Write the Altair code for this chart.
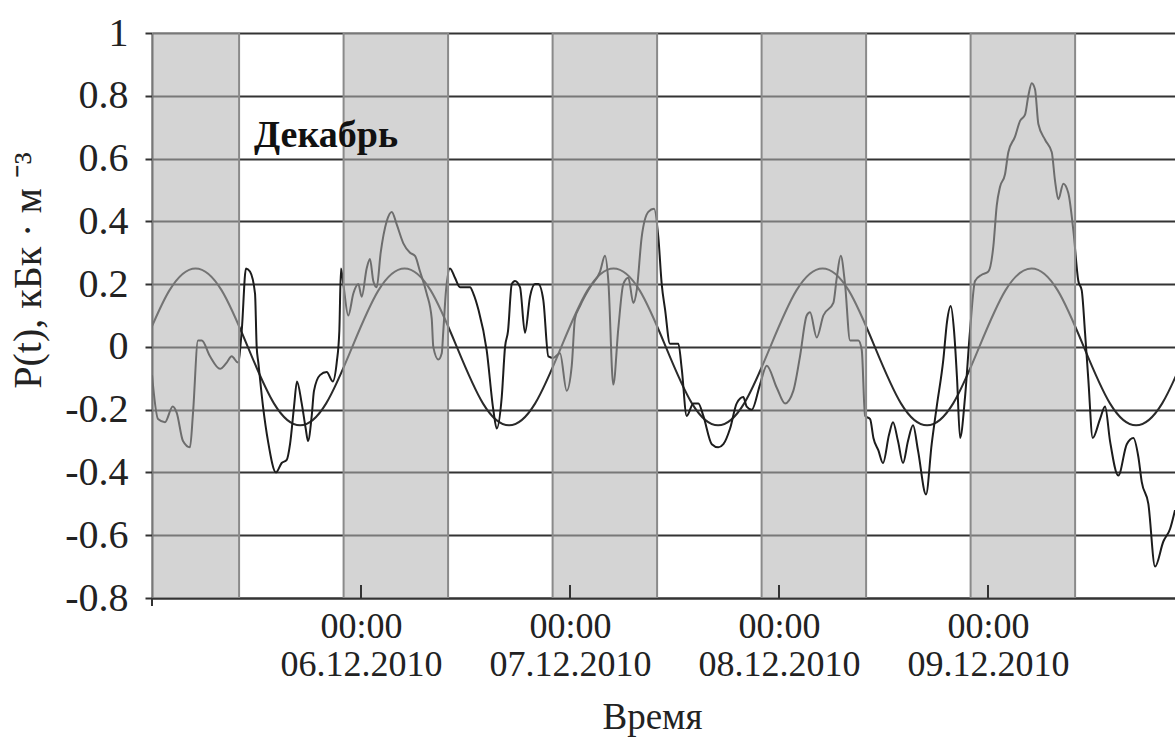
import altair as alt
import pandas as pd

# Hours since 05.12.2010 00:00 and measured P(t), kBq/m^3
meas_h = [0.0, 0.69, 1.49, 2.38, 2.84, 3.56, 4.36, 4.71, 5.28, 5.71, 6.66, 7.81, 8.58, 9.15, 9.88,
          10.30, 10.79, 11.25, 11.83, 12.02, 12.21, 12.75, 13.32, 14.24, 14.89, 15.47, 15.85, 16.31,
          16.65, 17.19, 17.65, 17.91, 18.34, 18.60, 19.29, 20.06, 20.75, 21.21, 21.51, 21.70, 21.97,
          22.54, 23.12, 23.69, 24.08, 24.65, 25.03, 25.41, 25.80, 26.26, 26.95, 27.53, 28.10, 28.86,
          29.63, 30.20, 30.78, 31.54, 32.12, 32.30, 32.88, 33.27, 33.45, 33.76, 34.22, 34.79, 35.37,
          36.52, 36.90, 37.47, 38.43, 39.19, 39.58, 40.16, 40.54, 40.88, 41.31, 41.68, 42.26, 42.83,
          43.41, 43.98, 44.36, 44.93, 45.51, 46.08, 46.85, 47.62, 48.20, 48.57, 49.15, 50.30, 51.45,
          52.02, 52.40, 52.97, 53.55, 54.12, 54.70, 55.27, 55.66, 56.23, 56.99, 57.65, 58.14, 58.53,
          58.91, 59.48, 60.44, 60.83, 61.40, 62.16, 62.74, 63.31, 64.28, 65.03, 65.61, 66.38, 67.14,
          67.90, 68.29, 68.87, 69.82, 70.59, 71.74, 72.69, 73.64, 74.41, 75.18, 75.56, 76.33, 77.09,
          78.24, 78.63, 79.09, 79.58, 80.16, 81.11, 81.50, 81.88, 82.46, 82.84, 83.41, 83.94, 84.63,
          85.09, 85.66, 86.24, 86.81, 87.39, 87.96, 88.88, 89.53, 90.11, 90.87, 91.29, 91.72, 92.10,
          92.44, 92.79, 93.36, 93.93, 94.51, 95.27, 96.04, 96.61, 97.00, 97.38, 97.95, 98.33, 99.10,
          99.68, 100.25, 100.63, 101.02, 101.40, 101.78, 102.55, 103.32, 103.69, 104.07, 104.65,
          105.22, 105.80, 106.37, 106.76, 107.14, 107.52, 108.02, 108.86, 109.44, 110.01, 110.96,
          111.93, 112.69, 113.26, 113.65, 114.41, 115.18, 116.13, 116.90, 117.47]
meas_p = [-0.09, -0.23, -0.24, -0.19, -0.21, -0.30, -0.32, -0.21, 0.02, 0.02, -0.03, -0.07, -0.05,
          -0.03, -0.05, 0.05, 0.25, 0.24, 0.17, 0.0, -0.05, -0.19, -0.30, -0.40, -0.37, -0.36, -0.31,
          -0.19, -0.11, -0.18, -0.26, -0.30, -0.22, -0.14, -0.09, -0.08, -0.11, -0.05, 0.05, 0.25,
          0.20, 0.10, 0.17, 0.20, 0.16, 0.25, 0.28, 0.21, 0.19, 0.30, 0.40, 0.43, 0.39, 0.33, 0.30,
          0.29, 0.24, 0.17, 0.09, 0.0, -0.04, -0.02, 0.05, 0.18, 0.25, 0.22, 0.19, 0.19, 0.17, 0.12,
          -0.01, -0.20, -0.26, -0.16, 0.0, 0.05, 0.20, 0.21, 0.19, 0.045, 0.16, 0.20, 0.20, 0.15,
          -0.03, -0.035, -0.02, -0.14, -0.06, 0.09, 0.13, 0.19, 0.24, 0.29, 0.21, -0.12, 0.06, 0.20,
          0.22, 0.14, 0.18, 0.35, 0.43, 0.44, 0.35, 0.20, 0.12, 0.01, 0.01, -0.07, -0.22, -0.18,
          -0.18, -0.22, -0.31, -0.32, -0.31, -0.26, -0.18, -0.16, -0.19, -0.20, -0.12, -0.06, -0.13,
          -0.18, -0.14, -0.03, 0.10, 0.11, 0.03, 0.10, 0.14, 0.22, 0.29, 0.20, 0.02, 0.02, -0.01,
          -0.22, -0.23, -0.29, -0.33, -0.37, -0.28, -0.24, -0.30, -0.37, -0.30, -0.25, -0.33, -0.47,
          -0.31, -0.19, -0.04, 0.08, 0.13, 0.05, -0.10, -0.29, -0.16, 0.05, 0.21, 0.23, 0.24, 0.32,
          0.45, 0.51, 0.55, 0.62, 0.67, 0.72, 0.74, 0.80, 0.84, 0.82, 0.71, 0.66, 0.62, 0.53, 0.47,
          0.52, 0.49, 0.37, 0.21, 0.18, 0.045, -0.105, -0.29, -0.23, -0.19, -0.30, -0.41, -0.31,
          -0.29, -0.35, -0.43, -0.50, -0.70, -0.62, -0.58, -0.52]

# Daily harmonic, sampled every 3 hours
fit_h = [-1, 2, 5, 8, 11, 14, 17, 20, 23, 26, 29, 32, 35, 38, 41, 44, 47, 50, 53, 56, 59, 62, 65, 68,
         71, 74, 77, 80, 83, 86, 89, 92, 95, 98, 101, 104, 107, 110, 113, 116, 119]
fit_p = [0.0, 0.18, 0.25, 0.18, 0.0, -0.18, -0.25, -0.18, 0.0, 0.18, 0.25, 0.18, 0.0, -0.18, -0.25,
         -0.18, 0.0, 0.18, 0.25, 0.18, 0.0, -0.18, -0.25, -0.18, 0.0, 0.18, 0.25, 0.18, 0.0, -0.18,
         -0.25, -0.18, 0.0, 0.18, 0.25, 0.18, 0.0, -0.18, -0.25, -0.18, 0.0]

# Night periods (22:00 - 10:00), hours since 05.12.2010 00:00
night_start = [0, 22, 46, 70, 94]
night_end = [10, 34, 58, 82, 106]

day_ticks = [24, 48, 72, 96]
day_labels = ["06.12.2010", "07.12.2010", "08.12.2010", "09.12.2010"]
time_label = "00:00"
y_ticks = [-0.8, -0.6, -0.4, -0.2, 0.0, 0.2, 0.4, 0.6, 0.8, 1.0]

W, H = 1023, 565
FONT = "Liberation Serif"
INK = "#222222"

meas = pd.DataFrame({"h": meas_h, "p": meas_p})
fit = pd.DataFrame({"h": fit_h, "p": fit_p})
nights = pd.DataFrame({"h": night_start, "end": night_end})
edges = pd.DataFrame({"h": [v for v in night_start + night_end if v > 0]})
ticks = pd.DataFrame({"h": day_ticks})

label_expr = " : ".join(
    f"datum.value == {t} ? ['{time_label}', '{d}']" for t, d in zip(day_ticks, day_labels)
) + " : ''"

xscale = alt.Scale(domain=[0, 117.47], nice=False, zero=False)
yscale = alt.Scale(domain=[-0.8, 1.0], nice=False, zero=False)

x_axis = alt.Axis(
    values=day_ticks, labelExpr=label_expr, ticks=False, grid=False,
    domainColor="#333333", domainWidth=2,
    labelFont=FONT, labelFontSize=36, labelColor=INK, labelPadding=11,
    labelBaseline="top", labelLineHeight=38, labelLimit=0, labelOverlap=False,
    titleFont=FONT, titleFontSize=37, titleFontWeight="normal",
    titleColor=INK, titleX=500, titleY=119, titleBaseline="middle",
)
y_axis = alt.Axis(
    values=y_ticks, labelExpr="replace(format(datum.value, '.1~f'), '\u2212', '-')",
    grid=True, gridColor="#333333", gridWidth=2,
    domainColor="#333333", domainWidth=2, tickColor="#333333", tickWidth=2, tickSize=7,
    labelFont=FONT, labelFontSize=40, labelColor=INK, labelPadding=17,
    labelLimit=0, labelOverlap=False,
    titleFont=FONT, titleFontSize=40, titleFontWeight="normal",
    titleColor=INK, titleX=-124, titleY=237, titleBaseline="middle", titleAlign="center",
)

X = alt.X("h:Q", scale=xscale, axis=x_axis, title="Время")
Y = alt.Y("p:Q", scale=yscale, axis=y_axis, title="P(t),  кБк · м ⁻³")

fit_line = alt.Chart(fit).mark_line(
    color="#2a2a2a", strokeWidth=2, interpolate="natural", clip=True
).encode(x=X, y=Y)

meas_line = alt.Chart(meas).mark_line(
    color="#1c1c1c", strokeWidth=2, interpolate="monotone", clip=True
).encode(x=X, y=Y)

night_bands = alt.Chart(nights).mark_rect(fill="#b0b0b0", opacity=0.55).encode(
    x=X, x2="end:Q", y=alt.value(0), y2=alt.value(H),
)

night_edges = alt.Chart(edges).mark_rule(color="#8a8a8a", strokeWidth=2).encode(
    x=X, y=alt.value(0), y2=alt.value(H),
)

inner_ticks = alt.Chart(ticks).mark_rule(color="#333333", strokeWidth=2).encode(
    x=X, y=alt.value(H - 13), y2=alt.value(H),
)

axis_stub = alt.Chart(pd.DataFrame({"h": [0]})).mark_rule(color="#333333", strokeWidth=2).encode(
    x=X, y=alt.value(H), y2=alt.value(H + 8),
)

month = alt.Chart(pd.DataFrame({"label": ["Декабрь"]})).mark_text(
    font=FONT, fontSize=38, fontWeight="bold", color="#111111", align="left", baseline="middle"
).encode(
    x=alt.value(102),
    y=alt.value(103),
    text="label:N",
)

chart = alt.layer(
    fit_line, meas_line, night_bands, night_edges, inner_ticks, axis_stub, month
).properties(
    width=W,
    height=H,
    padding={"left": 152, "top": 33, "right": 0, "bottom": 146},
    autosize=alt.AutoSizeParams(type="none"),
    background="white",
).configure_view(stroke=None)

chart.save("out.html", embed_options={"renderer": "svg", "actions": False})
